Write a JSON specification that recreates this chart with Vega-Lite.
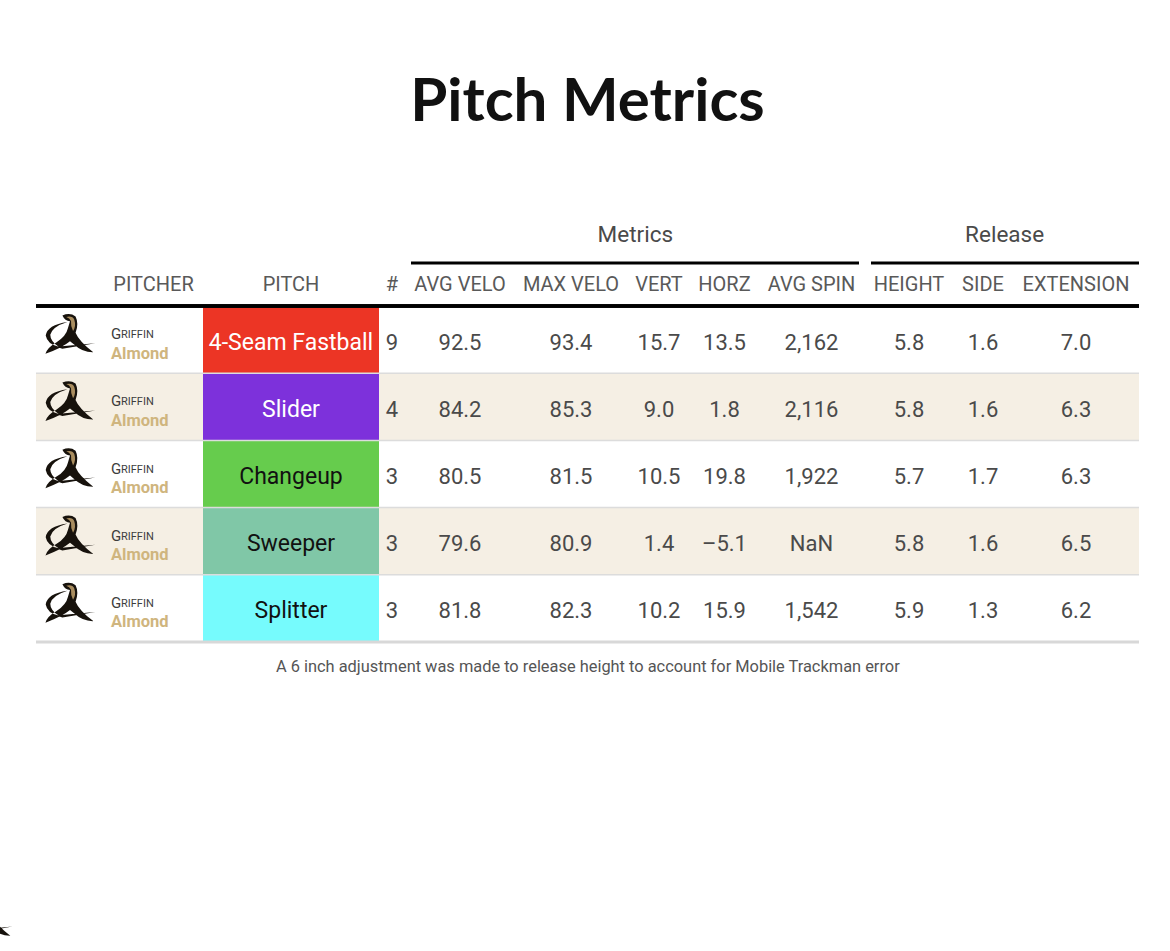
{
  "$schema": "https://vega.github.io/schema/vega-lite/v6.json",
  "width": 1103,
  "height": 486,
  "autosize": {"type": "none"},
  "padding": {"top": 206, "left": 36, "right": 31, "bottom": 259},
  "background": "white",
  "title": {
    "text": "Pitch Metrics",
    "font": "Lato",
    "fontSize": 60,
    "fontWeight": 700,
    "color": "#111111",
    "anchor": "middle",
    "offset": 72
  },
  "config": {
    "view": {"stroke": null},
    "text": {"font": "Roboto", "color": "#4a4a4a"}
  },
  "datasets": {
    "pitches": [
      {"first": "Griffin", "last": "Almond", "pitch": "4-Seam Fastball", "n": "9", "avg_velo": "92.5", "max_velo": "93.4", "vert": "15.7", "horz": "13.5", "spin": "2,162", "height": "5.8", "side": "1.6", "extension": "7.0"},
      {"first": "Griffin", "last": "Almond", "pitch": "Slider", "n": "4", "avg_velo": "84.2", "max_velo": "85.3", "vert": "9.0", "horz": "1.8", "spin": "2,116", "height": "5.8", "side": "1.6", "extension": "6.3"},
      {"first": "Griffin", "last": "Almond", "pitch": "Changeup", "n": "3", "avg_velo": "80.5", "max_velo": "81.5", "vert": "10.5", "horz": "19.8", "spin": "1,922", "height": "5.7", "side": "1.7", "extension": "6.3"},
      {"first": "Griffin", "last": "Almond", "pitch": "Sweeper", "n": "3", "avg_velo": "79.6", "max_velo": "80.9", "vert": "1.4", "horz": "–5.1", "spin": "NaN", "height": "5.8", "side": "1.6", "extension": "6.5"},
      {"first": "Griffin", "last": "Almond", "pitch": "Splitter", "n": "3", "avg_velo": "81.8", "max_velo": "82.3", "vert": "10.2", "horz": "15.9", "spin": "1,542", "height": "5.9", "side": "1.3", "extension": "6.2"}
    ],
    "headers": [
      {"label": "PITCHER"}, {"label": "PITCH"}, {"label": "#"}, {"label": "AVG VELO"}, {"label": "MAX VELO"}, {"label": "VERT"},
      {"label": "HORZ"}, {"label": "AVG SPIN"}, {"label": "HEIGHT"}, {"label": "SIDE"}, {"label": "EXTENSION"}
    ],
    "spanners": [
      {"label": "Metrics", "from": 4, "to": 9, "center": 6.13},
      {"label": "Release", "from": 9, "to": 12, "center": 10.86}
    ]
  },
  "data": {"name": "pitches"},
  "transform": [
    {"window": [{"op": "row_number", "as": "idx"}]},
    {"calculate": "datum.idx + 1", "as": "row"},
    {"calculate": "datum.idx + 2", "as": "row_end"},
    {"calculate": "datum.idx + 1.5", "as": "row_mid"}
  ],
  "layer": [
    {
      "transform": [{"filter": "datum.idx % 2 == 0"}],
      "mark": {"type": "rect", "color": "#f5efe4"},
      "encoding": {
        "x": {"datum": 0, "type": "quantitative", "axis": null, "scale": {"domain": [0, 1, 2, 3, 4, 5, 6, 7, 8, 9, 10, 11, 12], "range": [0, 68, 167, 343, 369, 479, 591, 655, 722, 829, 917, 977, 1103]}},
        "x2": {"datum": 12},
        "y": {"field": "row", "type": "quantitative", "axis": null, "scale": {"domain": [0, 1, 2, 3, 4, 5, 6, 7, 8], "range": [0, 57, 100, 167.2, 234.4, 301.6, 368.8, 436, 486]}},
        "y2": {"field": "row_end"}
      }
    },
    {
      "mark": {"type": "rect"},
      "encoding": {
        "x": {"datum": 2, "type": "quantitative"},
        "x2": {"datum": 3},
        "y": {"field": "row", "type": "quantitative"},
        "y2": {"field": "row_end"},
        "color": {
          "field": "pitch",
          "type": "nominal",
          "legend": null,
          "scale": {
            "domain": ["4-Seam Fastball", "Slider", "Changeup", "Sweeper", "Splitter"],
            "range": ["#ec3525", "#7d31db", "#66cc4d", "#80c7a7", "#76fbfd"]
          }
        }
      }
    },
    {
      "transform": [{"filter": "datum.idx < 5"}],
      "mark": {"type": "rule", "color": "#dcdcdc", "size": 1.5},
      "encoding": {
        "x": {"datum": 0, "type": "quantitative"},
        "x2": {"datum": 12},
        "y": {"field": "row_end", "type": "quantitative"}
      }
    },
    {
      "transform": [{"filter": "datum.idx == 5"}],
      "mark": {"type": "rule", "color": "#d8d8d8", "size": 3},
      "encoding": {
        "x": {"datum": 0, "type": "quantitative"},
        "x2": {"datum": 12},
        "y": {"field": "row_end", "type": "quantitative"}
      }
    },
    {
      "mark": {"type": "rule", "color": "#000000", "size": 3},
      "encoding": {
        "x": {"datum": 0, "type": "quantitative"},
        "x2": {"datum": 12},
        "y": {"datum": 2, "type": "quantitative"}
      }
    },
    {
      "data": {"name": "spanners"},
      "transform": [{"filter": "datum.label == 'Metrics'"}],
      "mark": {"type": "rule", "color": "#000000", "size": 3, "xOffset": 6, "x2Offset": -6},
      "encoding": {
        "x": {"field": "from", "type": "quantitative"},
        "x2": {"field": "to"},
        "y": {"datum": 1, "type": "quantitative"}
      }
    },
    {
      "data": {"name": "spanners"},
      "transform": [{"filter": "datum.label == 'Release'"}],
      "mark": {"type": "rule", "color": "#000000", "size": 3, "xOffset": 6},
      "encoding": {
        "x": {"field": "from", "type": "quantitative"},
        "x2": {"field": "to"},
        "y": {"datum": 1, "type": "quantitative"}
      }
    },
    {
      "data": {"name": "spanners"},
      "mark": {"type": "text", "fontSize": 22.5, "baseline": "middle"},
      "encoding": {
        "x": {"field": "center", "type": "quantitative"},
        "y": {"datum": 0.5, "type": "quantitative"},
        "text": {"field": "label"}
      }
    },
    {
      "data": {"name": "headers"},
      "transform": [
        {"window": [{"op": "row_number", "as": "idx"}]},
        {"calculate": "datum.idx + 0.5", "as": "col_mid"}
      ],
      "mark": {"type": "text", "fontSize": 20, "letterSpacing": 0.5, "baseline": "middle", "color": "#595959"},
      "encoding": {
        "x": {"field": "col_mid", "type": "quantitative"},
        "y": {"datum": 1.5, "type": "quantitative"},
        "text": {"field": "label"}
      }
    },
    {
      "mark": {"type": "point", "filled": true, "opacity": 1, "color": "#17120c", "size": 2560, "yOffset": -6, "shape": "M -0.3 -0.72 Q 0 -0.85 0.22 -0.68 Q 0.36 -0.4 0.22 -0.03 Q 0.35 0.3 0.92 0.74 Q 0.5 0.75 0.15 0.42 L 0 0.3 Q -0.3 0.55 -0.97 0.8 Q -0.9 0.55 -0.53 0.34 Q -0.15 0.1 -0.08 -0.22 L 0 -0.49 Q -0.2 -0.5 -0.3 -0.72 Z M -0.1 -0.46 Q -0.9 -0.35 -0.96 0.08 Q -0.9 0.42 -0.45 0.52 Q -0.78 0.3 -0.78 0.05 Q -0.7 -0.28 -0.1 -0.46 Z M -0.55 0.52 L 1 0.38 L -0.3 0.6 Z"},
      "encoding": {
        "x": {"datum": 0.5, "type": "quantitative"},
        "y": {"field": "row_mid", "type": "quantitative"}
      }
    },
    {
      "mark": {"type": "point", "filled": true, "opacity": 1, "color": "#a98d5f", "size": 2560, "yOffset": -6, "shape": "M -0.15 -0.66 Q 0.1 -0.72 0.17 -0.55 Q 0.25 -0.3 0.12 -0.1 Q 0.02 -0.3 0.04 -0.5 Q -0.02 -0.62 -0.15 -0.66 Z"},
      "encoding": {
        "x": {"datum": 0.5, "type": "quantitative"},
        "y": {"field": "row_mid", "type": "quantitative"}
      }
    },
    {
      "data": {"values": [{"logo": "corner"}]},
      "mark": {"type": "point", "filled": true, "opacity": 1, "color": "#17120c", "size": 2560, "shape": "M -0.3 -0.72 Q 0 -0.85 0.22 -0.68 Q 0.36 -0.4 0.22 -0.03 Q 0.35 0.3 0.92 0.74 Q 0.5 0.75 0.15 0.42 L 0 0.3 Q -0.3 0.55 -0.97 0.8 Q -0.9 0.55 -0.53 0.34 Q -0.15 0.1 -0.08 -0.22 L 0 -0.49 Q -0.2 -0.5 -0.3 -0.72 Z M -0.55 0.52 L 1 0.38 L -0.3 0.6 Z"},
      "encoding": {
        "x": {"datum": -0.72, "type": "quantitative"},
        "y": {"datum": 12.5, "type": "quantitative"}
      }
    },
    {
      "transform": [{"calculate": "substring(datum.first, 0, 1)", "as": "initial"}],
      "mark": {"type": "text", "fontSize": 15, "align": "left", "baseline": "middle", "xOffset": 7, "yOffset": -5.5, "color": "#3d3d3d"},
      "encoding": {
        "x": {"datum": 1, "type": "quantitative"},
        "y": {"field": "row_mid", "type": "quantitative"},
        "text": {"field": "initial"}
      }
    },
    {
      "transform": [{"calculate": "upper(substring(datum.first, 1))", "as": "rest"}],
      "mark": {"type": "text", "fontSize": 11, "align": "left", "baseline": "middle", "xOffset": 17, "yOffset": -4.5, "color": "#3d3d3d"},
      "encoding": {
        "x": {"datum": 1, "type": "quantitative"},
        "y": {"field": "row_mid", "type": "quantitative"},
        "text": {"field": "rest"}
      }
    },
    {
      "mark": {"type": "text", "fontSize": 16.5, "fontWeight": "bold", "align": "left", "baseline": "middle", "xOffset": 7, "yOffset": 14, "color": "#cfb57e"},
      "encoding": {
        "x": {"datum": 1, "type": "quantitative"},
        "y": {"field": "row_mid", "type": "quantitative"},
        "text": {"field": "last"}
      }
    },
    {
      "mark": {"type": "text", "fontSize": 23, "baseline": "middle", "yOffset": 3},
      "encoding": {
        "x": {"datum": 2.5, "type": "quantitative"},
        "y": {"field": "row_mid", "type": "quantitative"},
        "text": {"field": "pitch"},
        "color": {
          "condition": {"test": "datum.pitch == '4-Seam Fastball' || datum.pitch == 'Slider'", "value": "#ffffff"},
          "value": "#111111"
        }
      }
    },
    {
      "transform": [
        {"fold": ["n", "avg_velo", "max_velo", "vert", "horz", "spin", "height", "side", "extension"]},
        {"calculate": "indexof(['n', 'avg_velo', 'max_velo', 'vert', 'horz', 'spin', 'height', 'side', 'extension'], datum.key) + 3.5", "as": "col_mid"}
      ],
      "mark": {"type": "text", "fontSize": 22, "baseline": "middle", "yOffset": 3},
      "encoding": {
        "x": {"field": "col_mid", "type": "quantitative"},
        "y": {"field": "row_mid", "type": "quantitative"},
        "text": {"field": "value"}
      }
    },
    {
      "data": {"values": [{"note": "A 6 inch adjustment was made to release height to account for Mobile Trackman error"}]},
      "mark": {"type": "text", "fontSize": 16.4, "baseline": "middle", "color": "#555555"},
      "encoding": {
        "x": {"datum": 5.65, "type": "quantitative"},
        "y": {"datum": 7.5, "type": "quantitative"},
        "text": {"field": "note"}
      }
    }
  ]
}
